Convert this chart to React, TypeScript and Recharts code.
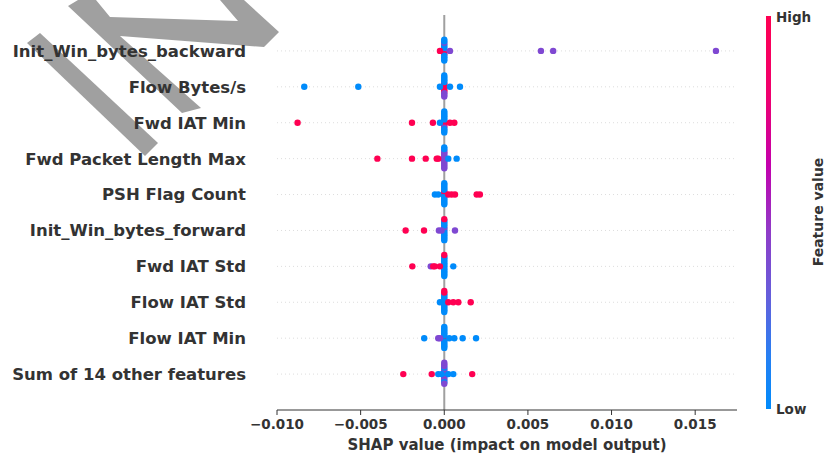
import React from 'react';
import { ScatterChart, Scatter, XAxis, YAxis, ReferenceLine } from 'recharts';

// feature names, top to bottom
const features = [
  'Init_Win_bytes_backward',
  'Flow Bytes/s',
  'Fwd IAT Min',
  'Fwd Packet Length Max',
  'PSH Flag Count',
  'Init_Win_bytes_forward',
  'Fwd IAT Std',
  'Flow IAT Std',
  'Flow IAT Min',
  'Sum of 14 other features',
];

const xTicks = [-0.01, -0.005, 0, 0.005, 0.01, 0.015];

// [shap value, feature value (0 = low, 1 = high)]
type Pt = [number, number];

const initWinBackward: Pt[] = [
  [0, 1], [0, 0], [0, 0.5], [0, 0], [0, 1], [0, 0], [0, 0], [0, 0], [0, 0], [0, 0.5], [0, 0], [0, 0], [0, 0], [0, 0],
  [-0.00026, 1], [0.00034, 0.5], [0.00578, 0.5], [0.00651, 0.5], [0.01624, 0.5],
];

const flowBytes: Pt[] = [
  [0, 1], [0, 1], [0, 1], [0, 1], [0, 1], [0, 0], [0, 1], [0, 0], [0, 0.5], [0, 0], [0, 0.5], [0, 0], [0, 0.5], [0, 0],
  [-0.00837, 0], [-0.00514, 0], [-0.00026, 0], [0.00034, 0], [0.00094, 0],
];

const fwdIatMin: Pt[] = [
  [0, 0], [0, 0], [0, 1], [0, 0], [0, 1], [0, 0], [0, 0.5], [0, 0], [0, 0], [0, 0], [0, 0], [0, 0], [0, 0], [0, 0],
  [-0.00877, 1], [-0.00193, 1], [-0.00068, 1], [-0.00026, 0], [0.00034, 1], [0.0006, 1],
];

const fwdPktLenMax: Pt[] = [
  [0, 0.5], [0, 0.5], [0, 0.5], [0, 0.5], [0, 0.5], [0, 0.5], [0, 0.5], [0, 0.5], [0, 0.5], [0, 0.5], [0, 0.5], [0, 0], [0, 0.5], [0, 0],
  [-0.004, 1], [-0.00193, 1], [-0.00111, 1], [-0.00045, 1], [-0.00036, 1], [0.00024, 0], [0.00074, 0],
];

const pshFlag: Pt[] = [
  [0, 1], [0, 1], [0, 0], [0, 1], [0, 0], [0, 0], [0, 0], [0, 0], [0, 0], [0, 0], [0, 0], [0, 0], [0, 0], [0, 0],
  [-0.00056, 0], [-0.00036, 0], [0.00024, 1], [0.00044, 1], [0.00064, 1], [0.00194, 1], [0.00213, 1],
];

const initWinForward: Pt[] = [
  [0, 0.5], [0, 0], [0, 0], [0, 0.5], [0, 0], [0, 0], [0, 0], [0, 0], [0, 0], [0, 0], [0, 0], [0, 0], [0, 0], [0, 1],
  [-0.00231, 1], [-0.00121, 1], [-0.00032, 0.5], [-0.00016, 0.5], [0.00064, 0.5],
];

const fwdIatStd: Pt[] = [
  [0, 0], [0, 0], [0, 0], [0, 0], [0, 0], [0, 0], [0, 0], [0, 0], [0, 0], [0, 0], [0, 0], [0, 0], [0, 0], [0, 1],
  [-0.00191, 1], [-0.00081, 0.5], [-0.00066, 1], [-0.00056, 1], [-0.00026, 1], [0.00054, 0],
];

const flowIatStd: Pt[] = [
  [0, 0], [0, 0], [0, 0], [0, 0], [0, 0], [0, 0], [0, 0], [0, 0], [0, 0], [0, 0], [0, 0], [0, 1], [0, 0], [0, 1],
  [-0.00026, 0], [0.00024, 1], [0.00054, 1], [0.00084, 1], [0.00158, 1],
];

const flowIatMin: Pt[] = [
  [0, 0.5], [0, 0], [0, 1], [0, 0], [0, 0], [0, 0], [0, 0], [0, 0], [0, 0], [0, 0], [0, 0], [0, 0], [0, 0], [0, 0],
  [-0.0012, 0], [-0.00036, 0.5], [-0.00026, 0.5], [0.0003, 0], [0.0006, 0], [0.0011, 0], [0.0019, 0],
];

const sumOthers: Pt[] = [
  [0, 0.5], [0, 0], [0, 0.5], [0, 0.5], [0, 0], [0, 0.5], [0, 0.5], [0, 0], [0, 0.5], [0, 0.5], [0, 0], [0, 0.5], [0, 0.5], [0, 0.5],
  [-0.00245, 1], [-0.00075, 1], [-0.00036, 0], [-0.00016, 0], [0.00024, 0], [0.00054, 0], [0.00167, 1],
];

const rows = [
  initWinBackward, flowBytes, fwdIatMin, fwdPktLenMax, pshFlag,
  initWinForward, fwdIatStd, flowIatStd, flowIatMin, sumOthers,
];

const BLUE = '#008bfb';
const PURPLE = '#7f48d2';
const RED = '#ff0052';
const TEXT = '#333333';
const FONT = '"DejaVu Sans", sans-serif';

function dotColor(c: number) {
  if (c < 0.25) return BLUE;
  if (c > 0.75) return RED;
  return PURPLE;
}

// shap-style beeswarm: stack points that fall in the same bin
function swarm(pts: Pt[]): number[] {
  const vals = pts.map((p) => p[0]);
  const lo = Math.min(...vals);
  const hi = Math.max(...vals);
  const quant = vals.map((v) => Math.round((100 * (v - lo)) / (hi - lo + 1e-8)));
  const order = pts.map((_, i) => i).sort((a, b) => quant[a] - quant[b]);
  const ys = new Array(pts.length).fill(0);
  let layer = 0;
  let last = -1;
  for (const i of order) {
    if (quant[i] !== last) layer = 0;
    ys[i] = Math.ceil(layer / 2) * ((layer % 2) * 2 - 1);
    layer += 1;
    last = quant[i];
  }
  const m = Math.max(...ys.map((y) => y + 1));
  return ys.map((y) => y * 0.9 * (0.4 / m));
}

const points = rows.flatMap((pts, r) => {
  const offs = swarm(pts);
  const base = features.length - 1 - r;
  return pts.map((p, i) => ({ x: p[0], y: base + offs[i], fill: dotColor(p[1]) }));
});

const fmtTick = (v: number) => v.toFixed(3).replace('-', '\u2212');

const YTick = (props: any) => {
  const { x, y, payload } = props;
  return (
    <text x={x} y={y} dy="0.36em" textAnchor="end" fill={TEXT} fontSize={16.5} fontWeight="bold" fontFamily={FONT}>
      {features[features.length - 1 - payload.value]}
    </text>
  );
};

const Dot = (props: any) => <circle cx={props.cx} cy={props.cy} r={3.2} fill={props.payload.fill} />;

export default function App() {
  return (
    <div style={{ position: 'absolute', left: 0, top: 0, width: 827, height: 455, background: '#fff' }}>
      {/* watermark */}
      <svg width={827} height={455} style={{ position: 'absolute', left: 0, top: 0 }}>
        <polygon points="27,43 40,33 158,143 145,156" fill="#a0a0a0" />
        <polygon
          points="68,6 78,0 96,0 110,17 238,21 220,0 244,0 279,32 264,47 120,36 201,108 182,113"
          fill="#a0a0a0"
        />
      </svg>

      <div style={{ position: 'absolute', left: 0, top: 0 }}>
        <ScatterChart width={827} height={455} margin={{ top: 15, right: 90, bottom: 0, left: 0 }}>
          <XAxis
            type="number"
            dataKey="x"
            domain={[-0.01, 0.0175]}
            ticks={xTicks}
            tickFormatter={fmtTick}
            height={45}
            tickSize={5}
            tickMargin={4}
            stroke={TEXT}
            tick={{ fill: TEXT, fontSize: 13.5, fontWeight: 'bold', fontFamily: FONT }}
            label={{
              value: 'SHAP value (impact on model output)',
              position: 'insideBottom',
              offset: 5,
              fill: TEXT,
              fontSize: 15,
              fontWeight: 'bold',
              fontFamily: FONT,
            }}
          />
          <YAxis
            type="number"
            dataKey="y"
            domain={[-1, 10]}
            ticks={[0, 1, 2, 3, 4, 5, 6, 7, 8, 9]}
            width={277}
            axisLine={false}
            tickLine={false}
            tickSize={0}
            tickMargin={31}
            tick={<YTick />}
          />
          {features.map((f, i) => (
            <ReferenceLine key={f} y={i} stroke="#dddddd" strokeWidth={1} strokeDasharray="1 3" />
          ))}
          <ReferenceLine x={0} stroke="#a0a0a0" strokeWidth={2} />
          <Scatter data={points} shape={<Dot />} isAnimationActive={false} />
        </ScatterChart>
      </div>

      {/* colour bar */}
      <svg width={827} height={455} style={{ position: 'absolute', left: 0, top: 0, pointerEvents: 'none' }}>
        <defs>
          <linearGradient id="fv" x1="0" y1="0" x2="0" y2="1">
            <stop offset="0" stopColor="#ff0052" />
            <stop offset="0.2" stopColor="#f0006e" />
            <stop offset="0.38" stopColor="#c300ad" />
            <stop offset="0.55" stopColor="#8f3cc8" />
            <stop offset="0.72" stopColor="#6360dc" />
            <stop offset="0.87" stopColor="#2580f3" />
            <stop offset="1" stopColor="#008bfb" />
          </linearGradient>
        </defs>
        <rect x={766} y={16} width={5} height={393} fill="url(#fv)" />
        <text x={776} y={22} fill={TEXT} fontSize={13.5} fontWeight="bold" fontFamily={FONT}>High</text>
        <text x={776} y={414} fill={TEXT} fontSize={13.5} fontWeight="bold" fontFamily={FONT}>Low</text>
        <text
          x={818}
          y={212}
          transform="rotate(-90 818 212)"
          textAnchor="middle"
          dominantBaseline="central"
          fill={TEXT}
          fontSize={14}
          fontWeight="bold"
          fontFamily={FONT}
        >
          Feature value
        </text>
      </svg>
    </div>
  );
}
